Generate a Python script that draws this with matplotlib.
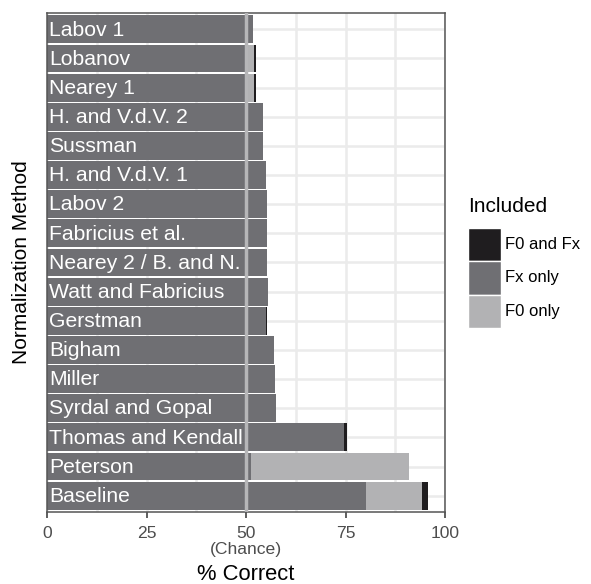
import matplotlib
matplotlib.use("Agg")
import matplotlib.pyplot as plt
from matplotlib.patches import Rectangle
import numpy as np

plt.rcParams["font.family"] = ["Liberation Sans", "DejaVu Sans"]

# Normalization methods, listed top to bottom
methods = [
    "Labov 1", "Lobanov", "Nearey 1", "H. and V.d.V. 2", "Sussman",
    "H. and V.d.V. 1", "Labov 2", "Fabricius et al.", "Nearey 2 / B. and N.",
    "Watt and Fabricius", "Gerstman", "Bigham", "Miller", "Syrdal and Gopal",
    "Thomas and Kendall", "Peterson", "Baseline",
]

# Segment lengths (% correct) stacked left to right: Fx only, F0 only, F0 and Fx
fx_only = [51.8, 50.0, 50.0, 54.3, 54.3, 54.9, 55.2, 55.2, 55.3, 55.4,
           55.0, 57.0, 57.3, 57.5, 74.6, 51.1, 80.1]
f0_only = [0.0, 2.0, 2.0, 0.0, 0.0, 0.0, 0.0, 0.0, 0.0, 0.0,
           0.0, 0.0, 0.0, 0.0, 0.0, 39.8, 14.2]
f0_and_fx = [0.0, 0.4, 0.4, 0.0, 0.0, 0.0, 0.0, 0.0, 0.0, 0.0,
             0.3, 0.0, 0.0, 0.0, 0.8, 0.0, 1.3]

chance = 50
x_ticks = [0, 25, 50, 75, 100]
x_tick_labels = ["0", "25", "50\n(Chance)", "75", "100"]

legend_labels = ["F0 and Fx", "Fx only", "F0 only"]
col_both = "#1f1d1f"
col_fx = "#6f6f73"
col_f0 = "#b2b2b4"

W, H = 591, 584
fig = plt.figure(figsize=(W / 100, H / 100), dpi=100)

px_left, px_right, px_top, px_bottom = 47.3, 445, 13, 512
ax = fig.add_axes([px_left / W, 1 - px_bottom / H,
                   (px_right - px_left) / W, (px_bottom - px_top) / H])

n = len(methods)
y = np.arange(n)[::-1]
fx = np.array(fx_only)
f0 = np.array(f0_only)
both = np.array(f0_and_fx)

bar_h = 0.955
ax.barh(y, fx, height=bar_h, color=col_fx, linewidth=0, zorder=2)
ax.barh(y, f0, left=fx, height=bar_h, color=col_f0, linewidth=0, zorder=2)
ax.barh(y, both, left=fx + f0, height=bar_h, color=col_both, linewidth=0, zorder=2)

ax.axvline(chance, color="#b6b6b8", linewidth=2.5, zorder=3)

for yi, name in zip(y, methods):
    ax.annotate(name, xy=(0, yi), xytext=(1.2, -0.5), textcoords="offset points",
                ha="left", va="center", color="white", fontsize=15.2, zorder=4)

ax.set_xlim(0, 100)
ax.set_ylim(-0.56, n - 1 + 0.56)

ax.set_xticks(x_ticks)
ax.set_xticklabels(x_tick_labels, fontsize=12.6, color="#4d4d4d", linespacing=1.1)
ax.set_xticks([12.5, 37.5, 62.5, 87.5], minor=True)
ax.tick_params(axis="x", which="major", length=4, width=1.1, color="#333333", pad=6)
ax.tick_params(axis="x", which="minor", length=0)
ax.set_yticks(y)
ax.set_yticklabels([])
ax.tick_params(axis="y", length=0)

ax.grid(True, which="both", axis="x", color="#ebebeb", linewidth=1.8, zorder=0)
ax.grid(True, which="major", axis="y", color="#ebebeb", linewidth=1.8, zorder=0)
ax.set_axisbelow(True)

for s in ax.spines.values():
    s.set_color("#555555")
    s.set_linewidth(1.1)

ax.set_xlabel("% Correct", fontsize=15.8, labelpad=5)
fig.text(22 / W, 1 - 262 / H, "Normalization Method", rotation=90,
         ha="center", va="center", fontsize=15)

# Legend
fig.text(468 / W, 1 - 207 / H, "Included", ha="left", va="center", fontsize=15)
key_x, key_w, key_h = 467.7, 33.5, 33.3
key_top = 228
for i, (lab, col) in enumerate(zip(legend_labels, [col_both, col_fx, col_f0])):
    top = key_top + i * key_h
    fig.add_artist(Rectangle((key_x / W, 1 - (top + key_h) / H), key_w / W, key_h / H,
                             transform=fig.transFigure, facecolor=col,
                             edgecolor="white", linewidth=1.0))
    fig.text(505 / W, 1 - (top + key_h / 2) / H, lab, ha="left", va="center",
             fontsize=12)

fig.savefig("out.png", dpi=100)
